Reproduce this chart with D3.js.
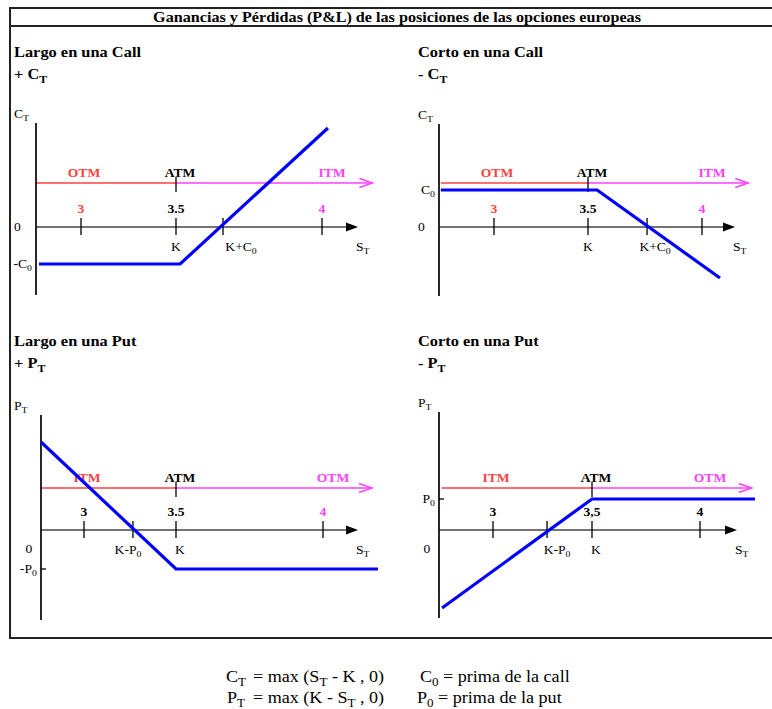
<!DOCTYPE html>
<html>
<head>
<meta charset="utf-8">
<script src="https://cdn.jsdelivr.net/npm/d3@7"></script>
<style>
  body { margin: 0; background: #fff; }
  svg { display: block; }
  text { white-space: pre; }
</style>
</head>
<body>
<svg id="chart" width="772" height="709"></svg>
<script>
// ---- données du schéma ----
const mainTitle = "Ganancias y Pérdidas (P&L) de las posiciones de las opciones europeas";
const panelTitles = ["Largo en una Call", "Corto en una Call", "Largo en una Put", "Corto en una Put"];
const panelSigns = ["+ C_T", "- C_T", "+ P_T", "- P_T"];
const yAxisNames = ["C_T", "C_T", "P_T", "P_T"];
const strike = 3.5;
const strikeLabel = "K";
const tickValues = [3, 3.5, 4];
const tickLabels = [["3", "3.5", "4"], ["3", "3.5", "4"], ["3", "3.5", "4"], ["3", "3,5", "4"]];
const breakEvenValues = [3.661, 3.759, 3.266, 3.273];
const breakEvenLabels = ["K+C_0", "K+C_0", "K-P_0", "K-P_0"];
const premiumValues = [-0.185, 0.185, -0.195, 0.155];
const premiumLabels = ["-C_0", "C_0", "-P_0", "P_0"];
const zoneLabels = [["OTM", "ATM", "ITM"], ["OTM", "ATM", "ITM"], ["ITM", "ATM", "OTM"], ["ITM", "ATM", "OTM"]];
const moneynessLevels = [0.22, 0.22, 0.21, 0.21];
const moneynessStart = [0, 0.1, 0, 0.15];
const moneynessEnd = 4.28;

// P&L à l'échéance : [S_T, valeur]
const payoffLargoCall = [[0.2, -0.185], [3.514, -0.185], [4.033, 0.495]];
const payoffCortoCall = [[0.1, 0.185], [3.54, 0.185], [4.109, -0.255]];
const payoffLargoPut = [[0, 0.44], [3.5, -0.195], [4.314, -0.195]];
const payoffCortoPut = [[0.17, -0.39], [3.5, 0.155], [4.297, 0.155]];
const payoffs = [payoffLargoCall, payoffCortoCall, payoffLargoPut, payoffCortoPut];

const formulaLines = [
  ["C_T", "= max (S_T - K , 0)", "C_0 = prima de la call"],
  ["P_T", "= max (K - S_T , 0)", "P_0 = prima de la put"]
];

// ---- mise en page ----
const FONT = "'Liberation Serif', 'Times New Roman', Times, serif";
const RED = "#ff4040";
const MAGENTA = "#ff40ff";
const BLUE = "#0000ff";
const SX = 1.13; // étirement horizontal du texte
const yUnit = 200; // px par unité de P&L
const xDomain = [0, 3, 3.5, 4, 4.2]; // axe schématique (coupé entre 0 et 3)

const tickColors = [
  [RED, "#000", MAGENTA], [RED, "#000", MAGENTA],
  ["#000", "#000", MAGENTA], ["#000", "#000", "#000"]
];
const zoneColors = [RED, "#000", MAGENTA];

const layout = [
  { axisX: 36, zeroY: 227, offsets: [0, 45, 140, 286, 322], yTop: 123, yBottom: 295, textX: 14, titleY: 57, signY: 79, zeroBelow: false, premiumTick: false, beDx: 18 },
  { axisX: 439, zeroY: 227, offsets: [0, 55, 149, 263, 296], yTop: 124, yBottom: 296, textX: 418, titleY: 57, signY: 79, zeroBelow: false, premiumTick: false, beDx: 8 },
  { axisX: 41, zeroY: 530, offsets: [0, 43, 135, 282, 317], yTop: 415, yBottom: 620, textX: 14, titleY: 346, signY: 368, zeroBelow: true, premiumTick: true, beDx: -5 },
  { axisX: 439, zeroY: 530, offsets: [0, 54, 153, 261, 298], yTop: 412, yBottom: 618, textX: 418, titleY: 346, signY: 368, zeroBelow: true, premiumTick: true, beDx: 10 }
];

const svg = d3.select("#chart");

// texte avec indices : "C_T" -> C + T en indice
function richText(g, x, y, str, o = {}) {
  const size = o.size || 12;
  const t = g.append("text")
    .attr("transform", `translate(${x},${y}) scale(${o.sx || SX},1)`)
    .attr("text-anchor", o.anchor || "start")
    .attr("font-family", FONT)
    .attr("font-size", size)
    .attr("font-weight", o.bold ? "bold" : "normal")
    .attr("fill", o.color || "#000");
  const shift = size * 0.28;
  let down = false;
  str.split(/(_.)/).filter(s => s.length).forEach(s => {
    if (s[0] === "_" && s.length === 2) {
      t.append("tspan").attr("dy", shift).attr("font-size", size * 0.72).text(s[1]);
      down = true;
    } else {
      t.append("tspan").attr("dy", down ? -shift : 0).text(s);
      down = false;
    }
  });
  return t;
}

// ---- cadre et titre ----
svg.append("rect")
  .attr("x", 10).attr("y", 8).attr("width", 780).attr("height", 630)
  .attr("fill", "none").attr("stroke", "#222").attr("stroke-width", 2);
svg.append("line")
  .attr("x1", 10).attr("x2", 790).attr("y1", 26).attr("y2", 26)
  .attr("stroke", "#222").attr("stroke-width", 2);
richText(svg, 397, 22, mainTitle, { size: 14.3, bold: true, anchor: "middle" });

// ---- les quatre graphiques ----
layout.forEach((L, i) => {
  const g = svg.append("g");

  const x = d3.scaleLinear()
    .domain(xDomain)
    .range(L.offsets.map(o => L.axisX + o));
  const y = d3.scaleLinear()
    .domain([0, 1])
    .range([L.zeroY, L.zeroY - yUnit]);
  const tipX = x(xDomain[xDomain.length - 1]);

  // titres
  richText(g, L.textX, L.titleY, panelTitles[i], { size: 14.5, bold: true });
  richText(g, L.textX, L.signY, panelSigns[i], { size: 14.5, bold: true });
  richText(g, L.textX, L.yTop - 5, yAxisNames[i], { size: 12 });

  // ligne OTM / ATM / ITM
  const mY = y(moneynessLevels[i]);
  const mEnd = x(moneynessEnd);
  g.append("line")
    .attr("x1", x(moneynessStart[i])).attr("x2", x(strike))
    .attr("y1", mY).attr("y2", mY)
    .attr("stroke", RED).attr("stroke-width", 1.6);
  g.append("line")
    .attr("x1", x(strike)).attr("x2", mEnd)
    .attr("y1", mY).attr("y2", mY)
    .attr("stroke", MAGENTA).attr("stroke-width", 1.6);
  g.append("path")
    .attr("d", `M${mEnd - 13},${mY - 4.5}L${mEnd},${mY}L${mEnd - 13},${mY + 4.5}`)
    .attr("fill", "none").attr("stroke", MAGENTA).attr("stroke-width", 1.4);
  g.append("line")
    .attr("x1", x(strike)).attr("x2", x(strike))
    .attr("y1", mY - 6).attr("y2", mY + 9)
    .attr("stroke", "#000").attr("stroke-width", 1.3);
  const zoneX = [x(tickValues[0]) + 3, x(strike) + 4, x(tickValues[2]) + 10];
  zoneLabels[i].forEach((lab, j) => {
    richText(g, zoneX[j], mY - 6.5, lab, { size: 12, bold: true, anchor: "middle", color: zoneColors[j] });
  });

  // axe horizontal S_T
  g.append("line")
    .attr("x1", L.axisX).attr("x2", tipX - 10)
    .attr("y1", L.zeroY).attr("y2", L.zeroY)
    .attr("stroke", "#444").attr("stroke-width", 1.5);
  g.append("path")
    .attr("d", `M${tipX - 12},${L.zeroY - 4.5}L${tipX},${L.zeroY}L${tipX - 12},${L.zeroY + 4.5}Z`)
    .attr("fill", "#000");

  const axisTicks = tickValues.concat([breakEvenValues[i]]);
  g.selectAll(".tk")
    .data(axisTicks)
    .join("line")
    .attr("x1", d => x(d)).attr("x2", d => x(d))
    .attr("y1", L.zeroY - 9).attr("y2", L.zeroY + 8)
    .attr("stroke", "#000").attr("stroke-width", 1.3);

  tickValues.forEach((v, j) => {
    richText(g, x(v), L.zeroY - 14, tickLabels[i][j], { size: 12, bold: true, anchor: "middle", color: tickColors[i][j] });
  });
  richText(g, x(strike) + (i >= 2 ? 4 : 0), L.zeroY + 24, strikeLabel, { size: 12, anchor: "middle" });
  richText(g, x(breakEvenValues[i]) + L.beDx, L.zeroY + 24, breakEvenLabels[i], { size: 12, anchor: "middle" });
  richText(g, tipX - 2, L.zeroY + 24, "S_T", { size: 12 });

  // axe vertical
  g.append("line")
    .attr("x1", L.axisX).attr("x2", L.axisX)
    .attr("y1", L.yTop).attr("y2", L.yBottom)
    .attr("stroke", "#111").attr("stroke-width", 1.8);

  if (L.zeroBelow) {
    richText(g, L.axisX - 12, L.zeroY + 23, "0", { size: 12, anchor: "middle" });
  } else {
    richText(g, L.textX, L.zeroY + 4, "0", { size: 12 });
  }

  const pY = y(premiumValues[i]);
  richText(g, L.axisX - 4, pY + 4, premiumLabels[i], { size: 12, anchor: "end" });
  if (L.premiumTick) {
    g.append("line")
      .attr("x1", L.axisX).attr("x2", L.axisX + 5)
      .attr("y1", pY).attr("y2", pY)
      .attr("stroke", "#000").attr("stroke-width", 1.3);
  }

  // P&L
  const line = d3.line().x(d => x(d[0])).y(d => y(d[1]));
  g.append("path")
    .datum(payoffs[i])
    .attr("d", line)
    .attr("fill", "none")
    .attr("stroke", BLUE)
    .attr("stroke-width", 3.2);
});

// ---- formules ----
const formulaX = [[226, 253, 420], [227, 253, 417]];
const formulaY = [682, 703];
formulaLines.forEach((parts, r) => {
  parts.forEach((p, c) => {
    richText(svg, formulaX[r][c], formulaY[r], p, { size: 16 });
  });
});
</script>
</body>
</html>
